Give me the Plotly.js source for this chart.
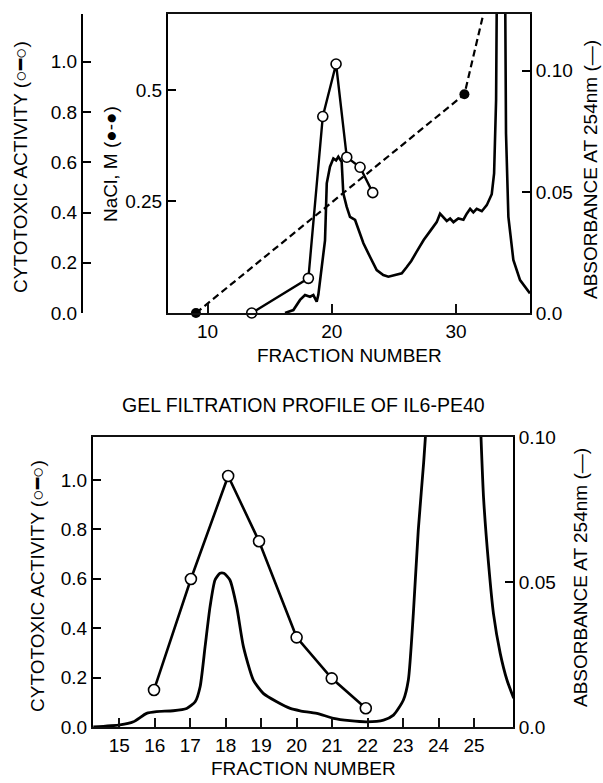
<!DOCTYPE html>
<html>
<head>
<meta charset="utf-8">
<script src="https://cdn.plot.ly/plotly-3.0.1.min.js"></script>
<style>
html,body{margin:0;padding:0;background:#fff;}
#chart{width:603px;height:783px;}
</style>
</head>
<body>
<div id="chart"></div>
<script>
// ---------- Top panel (ion exchange) ----------
const topCytoFraction = [13.56, 18.12, 19.28, 20.35, 21.21, 22.28, 23.3];
const topCytoActivity = [0, 0.138, 0.782, 0.991, 0.62, 0.58, 0.479];

const naclFraction = [9.07, 30.68, 35.0];
const naclMolar = [0, 0.49, 1.0];

const topAbsFraction = [16.24, 16.91, 17.45, 17.85, 18.25, 18.52, 18.79, 18.92, 19.46, 19.6, 19.86, 20.13, 20.35, 20.53, 20.8, 20.93, 21.2, 21.47, 21.88, 22.28, 22.55, 23.08, 23.62, 24.15, 24.56, 25.1, 25.64, 26.04, 26.4, 26.84, 27.4, 27.95, 28.45, 28.72, 28.99, 29.26, 29.53, 29.8, 30.19, 30.6, 30.87, 31.14, 31.4, 31.67, 32.08, 32.48, 32.88, 33.07, 33.23, 33.65, 34.03, 34.22, 34.62, 35.16, 35.96];
const topAbsorbance = [0, 0.0012, 0.0054, 0.0074, 0.0067, 0.0074, 0.0047, 0.0075, 0.030, 0.0535, 0.0604, 0.0638, 0.063, 0.0645, 0.0624, 0.0494, 0.0439, 0.0397, 0.0384, 0.0322, 0.0288, 0.0232, 0.0177, 0.0157, 0.015, 0.0157, 0.0164, 0.019, 0.0215, 0.0253, 0.0301, 0.034, 0.0375, 0.041, 0.0395, 0.038, 0.039, 0.0375, 0.039, 0.0385, 0.041, 0.043, 0.0415, 0.043, 0.042, 0.0445, 0.049, 0.0576, 0.0879, 0.4, 0.074, 0.0397, 0.0219, 0.0136, 0.0081];

const topXTicks = [10, 20, 30];
const naclTicks = [0.25, 0.5];
const naclTickText = ['0.25', '0.5'];
const cytoTicks = [0, 0.2, 0.4, 0.6, 0.8, 1.0];
const cytoTickText = ['0.0', '0.2', '0.4', '0.6', '0.8', '1.0'];
const absTicks = [0, 0.05, 0.10];
const absTickText = ['0.0', '0.05', '0.10'];

// ---------- Bottom panel (gel filtration) ----------
const gelCytoFraction = [15.98, 17.02, 18.07, 18.94, 20.0, 20.99, 21.95];
const gelCytoActivity = [0.15, 0.599, 1.016, 0.752, 0.363, 0.197, 0.076];

const gelAbsFraction = [14.27, 15.02, 15.4, 15.77, 16.05, 16.52, 16.9, 17.14, 17.28, 17.42, 17.56, 17.7, 17.84, 17.95, 18.12, 18.31, 18.5, 18.78, 19.06, 19.44, 19.82, 20.1, 20.57, 21.04, 21.5, 21.98, 22.45, 22.73, 23.01, 23.15, 23.29, 23.43, 23.58, 24.6, 25.27, 25.41, 25.55, 25.74, 25.93, 26.12];
const gelAbsorbance = [0.0, 0.0007, 0.0018, 0.0047, 0.0053, 0.0056, 0.0064, 0.0087, 0.0139, 0.0277, 0.0415, 0.0507, 0.053, 0.053, 0.0507, 0.0415, 0.0277, 0.0162, 0.0116, 0.0087, 0.0064, 0.0056, 0.0047, 0.003, 0.0022, 0.0018, 0.0024, 0.0041, 0.0093, 0.0162, 0.039, 0.068, 0.091, 0.26, 0.079, 0.0564, 0.039, 0.0254, 0.0162, 0.0099];

const gelXTicks = [15, 16, 17, 18, 19, 20, 21, 22, 23, 24, 25];

const FONT = 'Arial, "Liberation Sans", "DejaVu Sans", sans-serif';
const W = 603, H = 783;
const px = v => v / W;
const py = v => 1 - v / H;

const axisStyle = {
  showline: true, linecolor: '#000', linewidth: 2,
  ticks: 'inside', ticklen: 8, tickwidth: 2, tickcolor: '#000',
  showgrid: false, zeroline: false,
  tickfont: {family: FONT, size: 19, color: '#000'},
  fixedrange: true
};

const traces = [
  {x: topAbsFraction, y: topAbsorbance, xaxis: 'x', yaxis: 'y3', mode: 'lines',
   line: {color: '#000', width: 2.6}, showlegend: false},
  {x: naclFraction, y: naclMolar, xaxis: 'x', yaxis: 'y', mode: 'lines+markers',
   line: {color: '#000', width: 2.2, dash: '7px,4px'},
   marker: {color: '#000', size: 10, symbol: 'circle'}, cliponaxis: false, showlegend: false},
  {x: topCytoFraction, y: topCytoActivity, xaxis: 'x', yaxis: 'y2', mode: 'lines+markers',
   line: {color: '#000', width: 2.4},
   marker: {color: '#fff', size: 10, symbol: 'circle', line: {color: '#000', width: 1.6}},
   cliponaxis: false, showlegend: false},
  {x: gelAbsFraction, y: gelAbsorbance, xaxis: 'x2', yaxis: 'y5', mode: 'lines',
   line: {color: '#000', width: 2.8, shape: 'spline', smoothing: 0.6}, showlegend: false},
  {x: gelCytoFraction, y: gelCytoActivity, xaxis: 'x2', yaxis: 'y4', mode: 'lines+markers',
   line: {color: '#000', width: 2.6},
   marker: {color: '#fff', size: 11, symbol: 'circle', line: {color: '#000', width: 1.6}},
   cliponaxis: false, showlegend: false}
];

const layout = {
  width: W, height: H,
  margin: {l: 0, r: 0, t: 0, b: 0},
  paper_bgcolor: '#fff', plot_bgcolor: 'rgba(0,0,0,0)',
  showlegend: false,
  font: {family: FONT, color: '#000', size: 19},
  xaxis: Object.assign({}, axisStyle, {
    domain: [px(168), px(530)], anchor: 'y', range: [6.82, 35.96],
    tickvals: topXTicks, mirror: true, side: 'bottom',
    linecolor: '#111', tickcolor: '#111', ticklen: 9, linewidth: 2.2
  }),
  yaxis: Object.assign({}, axisStyle, {
    domain: [py(313), py(14)], anchor: 'x', range: [0, 0.67],
    tickvals: naclTicks, ticktext: naclTickText, side: 'left'
  }),
  yaxis2: Object.assign({}, axisStyle, {
    overlaying: 'y', anchor: 'free', position: px(82), side: 'left',
    range: [0, 1.19], tickvals: cytoTicks.concat([1.19]), ticktext: cytoTickText.concat([''])
  }),
  yaxis3: Object.assign({}, axisStyle, {
    overlaying: 'y', anchor: 'x', side: 'right', range: [0, 0.1234],
    tickvals: absTicks, ticktext: absTickText
  }),
  xaxis2: Object.assign({}, axisStyle, {
    domain: [px(93), px(513)], anchor: 'y4', range: [14.26, 26.1],
    tickvals: gelXTicks, mirror: true, side: 'bottom',
    linecolor: '#111', tickcolor: '#111', ticklen: 9, linewidth: 2.2
  }),
  yaxis4: Object.assign({}, axisStyle, {
    domain: [py(727), py(437)], anchor: 'x2', range: [0, 1.174],
    tickvals: cytoTicks, ticktext: cytoTickText, side: 'left'
  }),
  yaxis5: Object.assign({}, axisStyle, {
    overlaying: 'y4', anchor: 'x2', side: 'right', range: [0, 0.1],
    tickvals: absTicks, ticktext: absTickText
  }),
  annotations: [
    {text: 'CYTOTOXIC ACTIVITY (○━○)', xref: 'paper', yref: 'paper', x: px(20), y: py(167),
     textangle: -90, showarrow: false, xanchor: 'center', yanchor: 'middle', font: {size: 19}},
    {text: 'NaCl, M (●-●)', xref: 'paper', yref: 'paper', x: px(110), y: py(164),
     textangle: -90, showarrow: false, xanchor: 'center', yanchor: 'middle', font: {size: 19}},
    {text: 'ABSORBANCE AT 254nm (—)', xref: 'paper', yref: 'paper', x: px(590), y: py(170),
     textangle: -90, showarrow: false, xanchor: 'center', yanchor: 'middle', font: {size: 19}},
    {text: 'FRACTION NUMBER', xref: 'paper', yref: 'paper', x: px(349), y: py(355),
     showarrow: false, xanchor: 'center', yanchor: 'middle', font: {size: 19}},
    {text: 'GEL FILTRATION PROFILE OF IL6-PE40', xref: 'paper', yref: 'paper', x: px(303), y: py(405),
     showarrow: false, xanchor: 'center', yanchor: 'middle', font: {size: 19.5}},
    {text: 'CYTOTOXIC ACTIVITY (○━○)', xref: 'paper', yref: 'paper', x: px(37), y: py(586),
     textangle: -90, showarrow: false, xanchor: 'center', yanchor: 'middle', font: {size: 19}},
    {text: 'ABSORBANCE AT 254nm (—)', xref: 'paper', yref: 'paper', x: px(580), y: py(578),
     textangle: -90, showarrow: false, xanchor: 'center', yanchor: 'middle', font: {size: 19}},
    {text: 'FRACTION NUMBER', xref: 'paper', yref: 'paper', x: px(303), y: py(768),
     showarrow: false, xanchor: 'center', yanchor: 'middle', font: {size: 19}}
  ]
};

Plotly.newPlot('chart', traces, layout, {staticPlot: true, displayModeBar: false});
</script>
</body>
</html>
